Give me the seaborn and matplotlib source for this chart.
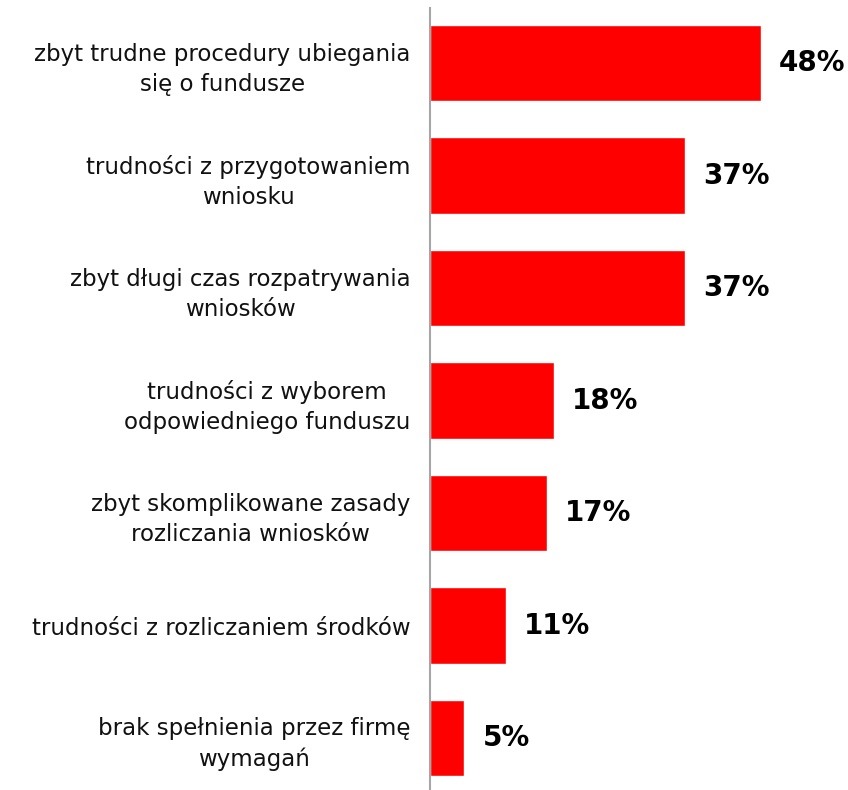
import numpy as np
import pandas as pd
import seaborn as sns
import matplotlib.pyplot as plt

labels = ['zbyt trudne procedury ubiegania\nsię o fundusze',
          'trudności z przygotowaniem\nwniosku',
          'zbyt długi czas rozpatrywania\nwniosków',
          'trudności z wyborem\nodpowiedniego funduszu',
          'zbyt skomplikowane zasady\nrozliczania wniosków',
          'trudności z rozliczaniem środków',
          'brak spełnienia przez firmę\nwymagań']
values = [48, 37, 37, 18, 17, 11, 5]

df = pd.DataFrame({'label': labels, 'value': values})

sns.set_style('white')
plt.rcParams['font.family'] = ['DejaVu Sans']

fig = plt.figure(figsize=(8.48, 7.90), dpi=100)
ax = fig.add_axes([0.507, 0.0, 0.493, 0.99])

sns.barplot(data=df, x='value', y='label', color='#ff0000', width=0.68,
            saturation=1, ax=ax)

ax.set_xlim(0, 60.6)
ax.set_ylim(6.46, -0.49)
ax.set_xlabel('')
ax.set_ylabel('')
ax.set_xticks([])
for s in ['top', 'right', 'bottom']:
    ax.spines[s].set_visible(False)
ax.spines['left'].set_color('#a6a6a6')
ax.spines['left'].set_linewidth(1.5)

ax.tick_params(axis='y', length=0, pad=14)
for t in ax.get_yticklabels():
    t.set_fontsize(16.5)
    t.set_multialignment('center')
    t.set_linespacing(1.4)
    t.set_color('#111111')

for i, v in enumerate(values):
    ax.text(v + 2.6, i, f'{v}%', va='center', ha='left',
            fontsize=20, fontweight='bold', color='black')

fig.savefig('out.png', dpi=100)
